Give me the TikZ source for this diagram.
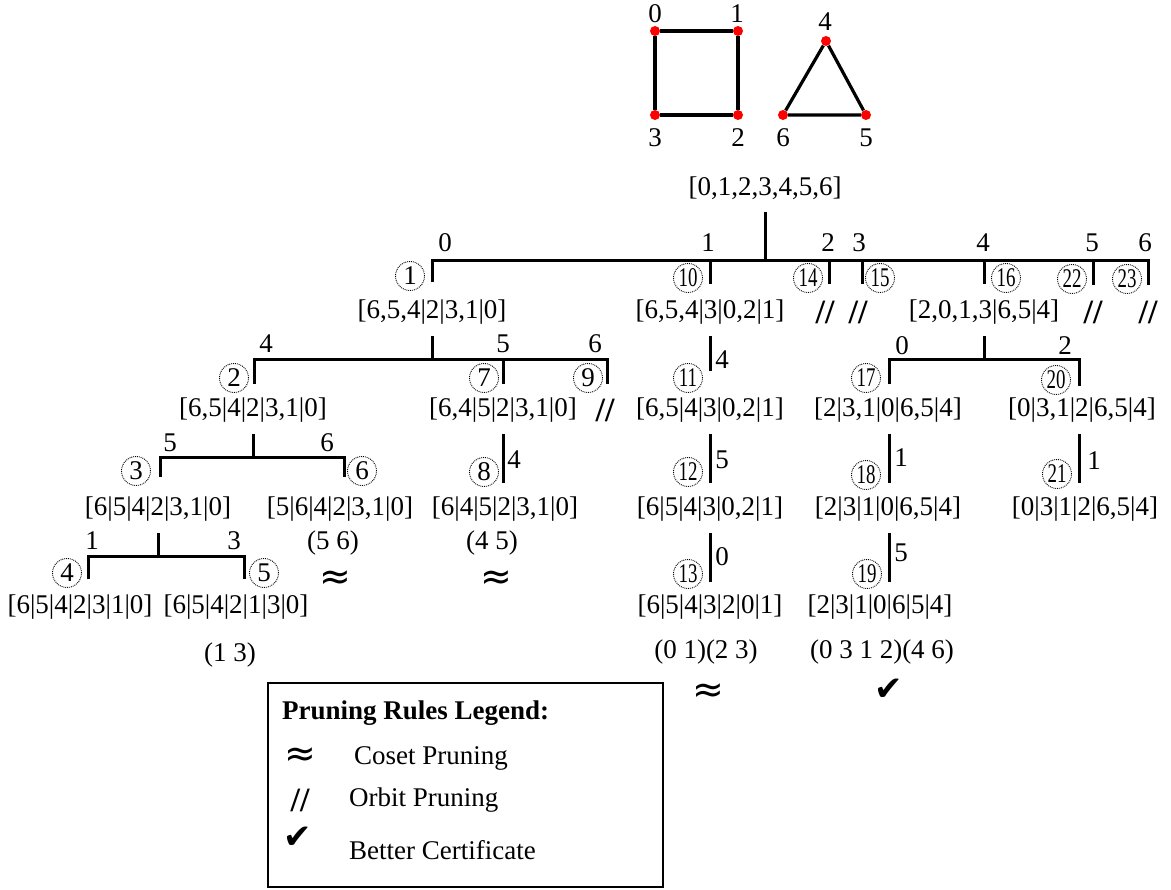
\documentclass[tikz,border=0pt]{standalone}
\usepackage{fontspec}
\setmainfont{Liberation Serif}
\newfontfamily\symfont{DejaVu Sans}
\usepackage{amsmath}
\usetikzlibrary{positioning}

\begin{document}
\begin{tikzpicture}[
  x=1pt, y=-1pt,
  every node/.style={font=\fontsize{27}{32}\selectfont, inner sep=2pt},
  vtx/.style={circle, fill=red, inner sep=0pt, minimum size=10pt},
  gedge/.style={line width=3.2pt},
  edge/.style={line width=3pt},
  stem/.style={edge, shorten <=10pt},
  cnum/.style={draw, densely dotted, line width=0.9pt, circle, inner sep=0pt,
               minimum size=29pt, font=\fontsize{27}{27}\selectfont},
  prune/.style={font=\fontsize{34}{36}\selectfont\bfseries},
  coset/.style={font=\fontsize{38}{40}\symfont},
  better/.style={font=\fontsize{34}{36}\symfont},
]
  \useasboundingbox (0,0) rectangle (1171,890);

  % the graph
  \node[vtx] (v0) at (655,31) {};
  \node[vtx] (v1) at (738,31) {};
  \node[vtx] (v2) at (738,115) {};
  \node[vtx] (v3) at (655,115) {};
  \node[vtx] (v4) at (826,41) {};
  \node[vtx] (v5) at (866,115) {};
  \node[vtx] (v6) at (783,115) {};
  \draw[gedge] (v0) -- (v1) -- (v2) -- (v3) -- (v0);
  \draw[gedge] (v4) -- (v5) -- (v6) -- (v4);
  \node (n0) at (655,14) {0};
  \node (n1) at (737,14) {1};
  \node (n2) at (738,138) {2};
  \node (n3) at (655,138) {3};
  \node (n4) at (825,22) {4};
  \node (n5) at (866,138) {5};
  \node (n6) at (783,138) {6};

  % root
  \node (t0) at (765,188) {[0,1,2,3,4,5,6]};
  \coordinate (b0) at (765,261);
  \draw[stem] (t0.south -| b0) -- (b0);

  % level 1
  \coordinate (k1) at (432,261);
  \coordinate (k10) at (710,261);
  \coordinate (k14) at (829,261);
  \coordinate (k15) at (862,261);
  \coordinate (k16) at (984,261);
  \coordinate (k22) at (1093,261);
  \coordinate (k23) at (1148,261);
  \node[cnum] (c1) at (410,276) {1};
  \node[cnum] (c10) at (688,278) {\scalebox{.7}[1]{10}};
  \node[cnum] (c14) at (808,278) {\scalebox{.7}[1]{14}};
  \node[cnum] (c15) at (880,278) {\scalebox{.7}[1]{15}};
  \node[cnum] (c16) at (1006,278) {\scalebox{.7}[1]{16}};
  \node[cnum] (c22) at (1072,279) {\scalebox{.7}[1]{22}};
  \node[cnum] (c23) at (1127,279) {\scalebox{.7}[1]{23}};
  \draw[edge] (k1 |- c1.-25) -- (k1) -- (k23) -- (k23 |- c23.-25);
  \draw[edge] (k10) -- (k10 |- c10.-25);
  \draw[edge] (k14) -- (k14 |- c14.-25);
  \draw[edge] (k15) -- (k15 |- c15.-25);
  \draw[edge] (k16) -- (k16 |- c16.-25);
  \draw[edge] (k22) -- (k22 |- c22.-25);
  \node (l1) at (445,243) {0};
  \node (l10) at (708,243) {1};
  \node (l14) at (828,243) {2};
  \node (l15) at (859,243) {3};
  \node (l16) at (983,243) {4};
  \node (l22) at (1092,243) {5};
  \node (l23) at (1145,243) {6};
  \node (t1) at (432,312) {[6,5,4|2|3,1|0]};
  \node (t10) at (710,312) {[6,5,4|3|0,2|1]};
  \node[prune] (p14) at (825,312) {//};
  \node[prune] (p15) at (858,312) {//};
  \node (t16) at (984,312) {[2,0,1,3|6,5|4]};
  \node[prune] (p22) at (1093,312) {//};
  \node[prune] (p23) at (1148,312) {//};

  % level 2
  \coordinate (b1) at (432,360);
  \coordinate (k2) at (254,360);
  \coordinate (k7) at (503,360);
  \coordinate (k9) at (607,360);
  \node[cnum] (c2) at (234,378) {2};
  \node[cnum] (c7) at (484,378) {7};
  \node[cnum] (c9) at (588,378) {9};
  \draw[stem] (t1.south -| b1) -- (b1);
  \draw[edge] (k2 |- c2.-25) -- (k2) -- (k9) -- (k9 |- c9.-25);
  \draw[edge] (k7) -- (k7 |- c7.-25);
  \node (l2) at (266,344) {4};
  \node (l7) at (503,344) {5};
  \node (l9) at (595,344) {6};
  \node (t2) at (253,410) {[6,5|4|2|3,1|0]};
  \node (t7) at (503,410) {[6,4|5|2|3,1|0]};
  \node[prune] (p9) at (605,410) {//};

  \coordinate (k11) at (710,371);
  \node[cnum] (c11) at (688,378) {\scalebox{.7}[1]{11}};
  \draw[stem] (t10.south -| k11) -- (k11);
  \node (l11) at (722,360) {4};
  \node (t11) at (710,410) {[6,5|4|3|0,2|1]};

  \coordinate (b16) at (984,360);
  \coordinate (k17) at (889,360);
  \coordinate (k20) at (1079,360);
  \node[cnum] (c17) at (866,378) {\scalebox{.7}[1]{17}};
  \node[cnum] (c20) at (1056,380) {\scalebox{.7}[1]{20}};
  \draw[stem] (t16.south -| b16) -- (b16);
  \draw[edge] (k17 |- c17.-25) -- (k17) -- (k20) -- (k20 |- c20.-25);
  \node (l17) at (902,346) {0};
  \node (l20) at (1065,346) {2};
  \node (t17) at (888,410) {[2|3,1|0|6,5|4]};
  \node (t20) at (1082,410) {[0|3,1|2|6,5|4]};

  % level 3
  \coordinate (b2) at (253,458);
  \coordinate (k3) at (160,458);
  \coordinate (k6) at (344,458);
  \node[cnum] (c3) at (136,471) {3};
  \node[cnum] (c6) at (362,471) {6};
  \draw[stem] (t2.south -| b2) -- (b2);
  \draw[edge] (k3 |- c3.-25) -- (k3) -- (k6) -- (k6 |- c6.-25);
  \node (l3) at (170,443) {5};
  \node (l6) at (327,443) {6};
  \node (t3) at (158,509) {[6|5|4|2|3,1|0]};
  \node (t6) at (340,509) {[5|6|4|2|3,1|0]};

  \coordinate (k8) at (503,483);
  \node[cnum] (c8) at (484,472) {8};
  \draw[stem] (t7.south -| k8) -- (k8);
  \node (l8) at (514,460) {4};
  \node (t8) at (505,509) {[6|4|5|2|3,1|0]};

  \coordinate (k12) at (710,483);
  \node[cnum] (c12) at (688,472) {\scalebox{.7}[1]{12}};
  \draw[stem] (t11.south -| k12) -- (k12);
  \node (l12) at (722,460) {5};
  \node (t12) at (710,509) {[6|5|4|3|0,2|1]};

  \coordinate (k18) at (889,483);
  \node[cnum] (c18) at (866,475) {\scalebox{.7}[1]{18}};
  \draw[stem] (t17.south -| k18) -- (k18);
  \node (l18) at (901,458) {1};
  \node (t18) at (888,509) {[2|3|1|0|6,5|4]};

  \coordinate (k21) at (1079,483);
  \node[cnum] (c21) at (1057,474) {\scalebox{.7}[1]{21}};
  \draw[stem] (t20.south -| k21) -- (k21);
  \node (l21) at (1094,461) {1};
  \node (t21) at (1085,509) {[0|3|1|2|6,5|4]};

  % level 4
  \coordinate (b3) at (158,557);
  \coordinate (k4) at (88,557);
  \coordinate (k5) at (244,557);
  \node[cnum] (c4) at (67,573) {4};
  \node[cnum] (c5) at (264,573) {5};
  \draw[stem] (t3.south -| b3) -- (b3);
  \draw[edge] (k4 |- c4.-25) -- (k4) -- (k5) -- (k5 |- c5.-25);
  \node (l4) at (92,541) {1};
  \node (l5) at (234,541) {3};
  \node (t4) at (80,607) {[6|5|4|2|3|1|0]};
  \node (t5) at (236,607) {[6|5|4|2|1|3|0]};
  \node (g5) at (230,655) {(1 3)};

  \node (g6) at (333,543) {(5 6)};
  \node[coset] (a6) at (335,580) {≈};
  \node (g8) at (492,543) {(4 5)};
  \node[coset] (a8) at (496,580) {≈};

  \coordinate (k13) at (710,582);
  \node[cnum] (c13) at (688,574) {\scalebox{.7}[1]{13}};
  \draw[stem] (t12.south -| k13) -- (k13);
  \node (l13) at (722,557) {0};
  \node (t13) at (710,607) {[6|5|4|3|2|0|1]};
  \node (g13) at (706,652) {(0 1)(2 3)};
  \node[coset] (a13) at (708,693) {≈};

  \coordinate (k19) at (889,582);
  \node[cnum] (c19) at (867,574) {\scalebox{.7}[1]{19}};
  \draw[stem] (t18.south -| k19) -- (k19);
  \node (l19) at (901,553) {5};
  \node (t19) at (880,607) {[2|3|1|0|6|5|4]};
  \node (g19) at (882,652) {(0 3 1 2)(4 6)};
  \node[better] (ok19) at (889,690) {✔};

  % legend
  \node[draw, line width=1.6pt, minimum width=395pt, minimum height=204pt,
        inner sep=0pt] (leg) at (465.5,785) {};
  \node[anchor=west, font=\fontsize{27}{32}\selectfont\bfseries] (legt)
       at (280,713) {Pruning Rules Legend:};
  \node[coset] (lg1) at (300,757) {≈};
  \node[anchor=west] (lgt1) at (352,758) {Coset Pruning};
  \node[prune] (lg2) at (300,800) {//};
  \node[anchor=west] (lgt2) at (347,800) {Orbit Pruning};
  \node[better] (lg3) at (298,838) {✔};
  \node[anchor=west] (lgt3) at (347,850) {Better Certificate};
\end{tikzpicture}
\end{document}
